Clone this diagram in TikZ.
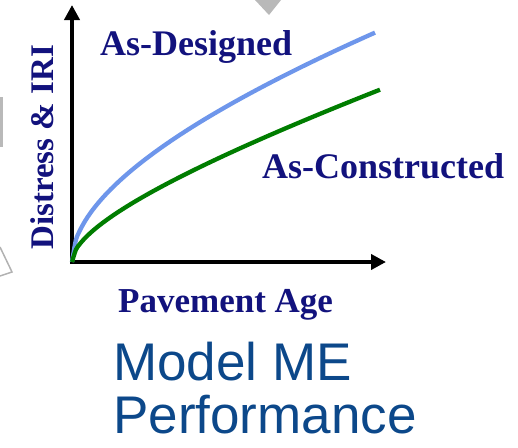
\documentclass[tikz,border=0pt]{standalone}
\usepackage{fontspec}
\setmainfont{Liberation Serif}
\newfontfamily\armfont{Liberation Sans}
\usetikzlibrary{arrows.meta,positioning}
\definecolor{labelnavy}{RGB}{18,18,125}
\definecolor{titleblue}{RGB}{12,72,138}
\definecolor{designblue}{RGB}{110,150,235}
\definecolor{builtgreen}{RGB}{0,125,0}
\tikzset
{
    axisline/.style = {line width=3.8pt, -{Triangle[length=15pt,width=15pt]}},
    curveline/.style = {line width=4.3pt},
    curvelabel/.style = {anchor=base west, inner sep=0pt, text=labelnavy, font=\bfseries\fontsize{36}{40}\selectfont},
    titletext/.style = {anchor=base west, inner sep=0pt, text=titleblue, font=\armfont\fontsize{53}{53}\selectfont},
    fragment/.style = {fill=gray!55, draw=none}
}

\begin{document}
\begin{tikzpicture}[x=1pt, y=-1pt]
	\useasboundingbox (0,0) rectangle (518,447);
	% cut-off shapes at the edges
	\fill[fragment] (255,0) -- (281,0) -- (269,15) -- cycle;
	\fill[fragment] (0,97) rectangle (3,147);
	\draw[gray!60, line width=1.5pt] (0,247) -- (12,272) -- (0,276);
	% axes
	\coordinate (origin) at (72,262);
	\coordinate (ytip) at (72,5);
	\coordinate (xtip) at (386,262);
	\draw[axisline] (72,264) -- (ytip);
	\draw[axisline] (70,262) -- (xtip);
	% curves
	\draw[designblue, curveline] plot[domain=0:303, samples=80, smooth] ({72+\x},{262-(10.85*sqrt(\x)+0.1337*\x)});
	\draw[builtgreen, curveline] plot[domain=0:308, samples=80, smooth] ({72+\x},{262-(5.8*sqrt(\x)+0.229*\x)});
	% labels
	\node[curvelabel] (designed) at (100,55) {As-Designed};
	\node[curvelabel] (built) at (262,178) {As-Constructed};
	\node[curvelabel, font=\bfseries\fontsize{35}{40}\selectfont] (age) at (118,312) {Pavement Age};
	\node[curvelabel, rotate=90, font=\bfseries\fontsize{33}{40}\selectfont] (distress) at (53,250) {Distress \& IRI};
	\node[titletext] (model) at (113,380) {Model ME};
	\node[titletext] (perf) at (113,433) {Performance};
\end{tikzpicture}
\end{document}
